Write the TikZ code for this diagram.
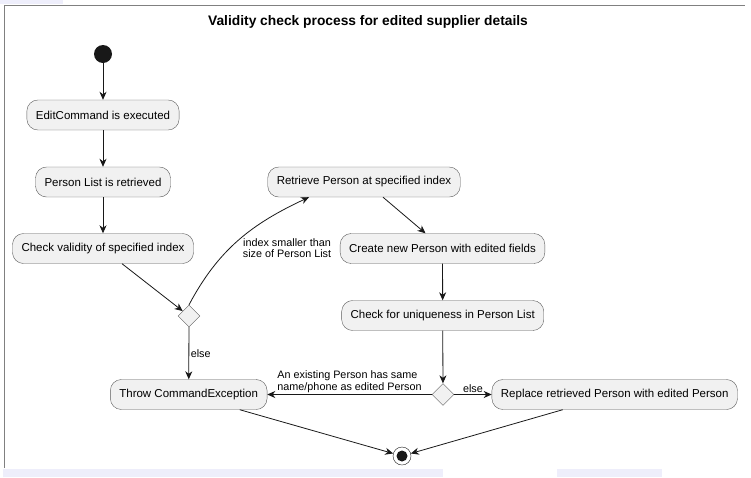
\documentclass[tikz,border=0pt]{standalone}
\usepackage{fontspec}
\setmainfont{Liberation Sans}
\usepackage{xcolor}
\usetikzlibrary{arrows.meta,shapes.geometric}
\definecolor{boxfill}{HTML}{F1F1F1}
\definecolor{boxline}{HTML}{5A5A5A}
\definecolor{ink}{HTML}{181818}
\definecolor{strip}{HTML}{EEEEFB}
\newcommand{\tip}{Stealth[length=8pt,width=7pt,inset=2.5pt]}

\begin{document}
\begin{tikzpicture}[x=1pt,y=-1pt,
	act/.style={draw=boxline,fill=boxfill,rounded corners=11pt,minimum height=30pt,inner xsep=9pt,font=\fontsize{11.5}{13}\selectfont},
	dec/.style={draw=boxline,fill=boxfill,diamond,minimum size=22pt,inner sep=0pt},
	lab/.style={font=\fontsize{10.8}{11.5}\selectfont,inner sep=1.5pt}]
\useasboundingbox (0,0) rectangle (751,477);
%screenshot edges and frame
\fill[strip] (0,0) rectangle (63,4);
\fill[strip] (3,469) rectangle (443,477);
\fill[strip] (557,469) rectangle (662,477);
\draw[gray] (4,468) -- (4,5) -- (745,5);

\node[font=\bfseries\fontsize{13.8}{15}\selectfont] (title) at (368,22) {Validity check process for edited supplier details};

\node[circle,fill=ink,minimum size=18pt,inner sep=0pt] (start) at (103,54) {};
\node[act] (exec) at (103,115) {EditCommand is executed};
\node[act] (list) at (103,182) {Person List is retrieved};
\node[act] (check) at (103,248.5) {Check validity of specified index};
\node[dec] (d1) at (189,316) {};
\node[act] (throw) at (188.7,394.5) {Throw CommandException};
\node[act] (get) at (364,182) {Retrieve Person at specified index};
\node[act] (new) at (442.5,248.5) {Create new Person with edited fields};
\node[act] (uniq) at (442.7,315.5) {Check for uniqueness in Person List};
\node[dec] (d2) at (443,394.5) {};
\node[act] (repl) at (614.7,394.5) {Replace retrieved Person with edited Person};
\node[circle,draw=ink,fill=white,minimum size=18pt,inner sep=0pt] (stop) at (402,456) {};
\fill[ink] (stop) circle (5.5pt);
\node[lab,align=center] (cond) at (287,248) {index smaller than\\size of Person List};

\begin{scope}[draw=ink,line width=0.8pt,-{\tip}]
%left column
\draw (start) -- (exec);
\draw (exec) -- (list);
\draw (list) -- (check);
\draw ([xshift=19pt]check.south) -- (d1);
\draw (d1) -- node[lab,right]{else} (throw);
%right column
\draw (d1.north) to[out=62,in=205] ([xshift=-55pt]get.south);
\draw ([xshift=19pt]get.south) -- ([xshift=-17pt]new.north);
\draw (new) -- (uniq);
\draw (uniq) -- (d2);
\draw (d2) -- node[lab,above,align=left]{An existing Person has same\\name/phone as edited Person} (throw);
\draw (d2) -- node[lab,above]{else} (repl);
%to the end
\draw ([xshift=51pt]throw.south) -- (stop);
\draw ([xshift=-52pt]repl.south) -- (stop);
\end{scope}
\end{tikzpicture}
\end{document}
